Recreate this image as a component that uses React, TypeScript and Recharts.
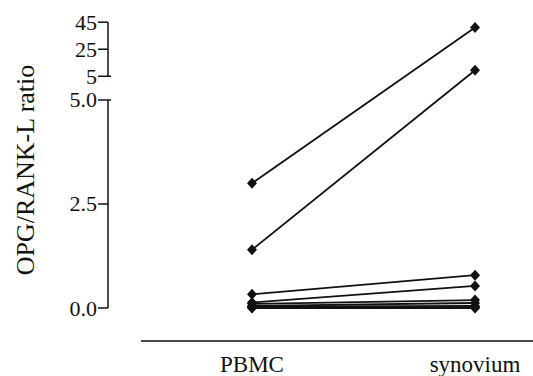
import { LineChart, Line, XAxis, YAxis, ReferenceLine } from 'recharts'

// OPG/RANK-L ratio per patient, paired PBMC vs synovium
const categories = ['PBMC', 'synovium']
const pbmc = [3.0, 1.4, 0.33, 0.13, 0.1, 0.05, 0.03, 0.02, 0.01, 0.0]
const synovium = [41, 9.4, 0.79, 0.53, 0.19, 0.12, 0.05, 0.02, 0.01, 0.0]

const lowerTicks = [0, 2.5, 5]
const lowerLabels = ['0.0', '2.5', '5.0']
const upperTicks = [5, 25, 45]
const upperLabels = ['5', '25', '45']

const FONT = '"Liberation Serif", "Times New Roman", serif'

// broken axis: 0-5 linear, then a gap, then 5-45 compressed
const BREAK = 5
const GAP = 0.57
const UPPER_SCALE = 0.0325
const toUpper = (v: number) => BREAK + GAP + (v - BREAK) * UPPER_SCALE
const toDisplay = (v: number) => (v <= BREAK ? v : toUpper(v))

const Y_MIN = -0.793
const Y_MAX = 7.163
const X_MIN = -0.6457
const X_MAX = 1.26
const X_LINE_START = -0.498

const tickMeta = [
  ...lowerTicks.map((t, i) => ({ pos: t, label: lowerLabels[i], cross: t === BREAK })),
  ...upperTicks.map((t, i) => ({ pos: toUpper(t), label: upperLabels[i], cross: t === BREAK })),
]

const rows = categories.map((name, i) => {
  const row: Record<string, number | string> = { x: i, name }
  pbmc.forEach((_, p) => {
    row['p' + p] = toDisplay(i === 0 ? pbmc[p] : synovium[p])
  })
  return row
})

function YTick(props: any) {
  const { x, y, payload } = props
  const meta = tickMeta.reduce((best, m) =>
    Math.abs(m.pos - payload.value) < Math.abs(best.pos - payload.value) ? m : best
  )
  return (
    <g>
      <text x={x} y={y} textAnchor="end" dominantBaseline="central" fontSize={22} fontFamily={FONT} fill="#111">
        {meta.label}
      </text>
      <line x1={x + 1} x2={x + (meta.cross ? 14 : 11)} y1={y} y2={y} stroke="#111" strokeWidth={1.5} />
    </g>
  )
}

function YLabel() {
  return (
    <text
      x={25}
      y={170}
      transform="rotate(-90, 25, 170)"
      textAnchor="middle"
      dominantBaseline="central"
      fontSize={26}
      fontFamily={FONT}
      fill="#111"
    >
      OPG/RANK-L ratio
    </text>
  )
}

function Diamond(props: any) {
  const { cx, cy } = props
  if (cx == null || cy == null) return <g />
  return <path d={`M${cx},${cy - 5.5} L${cx + 5},${cy} L${cx},${cy + 5.5} L${cx - 5},${cy} Z`} fill="#111" />
}

export default function App() {
  return (
    <div style={{ position: 'absolute', left: 0, top: 0, background: '#fff' }}>
      <LineChart width={533} height={376} data={rows} margin={{ top: 10, right: 0, bottom: 0, left: 0 }}>
        <XAxis
          dataKey="x"
          type="number"
          domain={[X_MIN, X_MAX]}
          ticks={[0, 1]}
          allowDataOverflow
          tickFormatter={(v: number) => categories[v]}
          axisLine={false}
          tickLine={false}
          tickSize={0}
          tickMargin={15}
          height={35}
          tick={{ fontSize: 23, fontFamily: FONT, fill: '#111' }}
        />
        <YAxis
          type="number"
          domain={[Y_MIN, Y_MAX]}
          ticks={tickMeta.map((m) => m.pos)}
          allowDataOverflow
          interval={0}
          width={108}
          axisLine={false}
          tickLine={false}
          tickSize={10}
          tickMargin={1}
          tick={<YTick />}
          label={<YLabel />}
        />
        <ReferenceLine
          segment={[{ x: X_LINE_START, y: Y_MIN }, { x: X_MAX, y: Y_MIN }]}
          stroke="#111"
          strokeWidth={1.5}
          ifOverflow="visible"
        />
        <ReferenceLine
          segment={[{ x: X_MIN, y: 0 }, { x: X_MIN, y: BREAK }]}
          stroke="#111"
          strokeWidth={1.5}
          ifOverflow="visible"
        />
        <ReferenceLine
          segment={[{ x: X_MIN, y: toUpper(upperTicks[0]) }, { x: X_MIN, y: toUpper(upperTicks[2]) }]}
          stroke="#111"
          strokeWidth={1.5}
          ifOverflow="visible"
        />
        {pbmc.map((_, p) => (
          <Line
            key={p}
            dataKey={'p' + p}
            stroke="#111"
            strokeWidth={1.8}
            dot={<Diamond />}
            activeDot={false}
            isAnimationActive={false}
          />
        ))}
      </LineChart>
    </div>
  )
}
